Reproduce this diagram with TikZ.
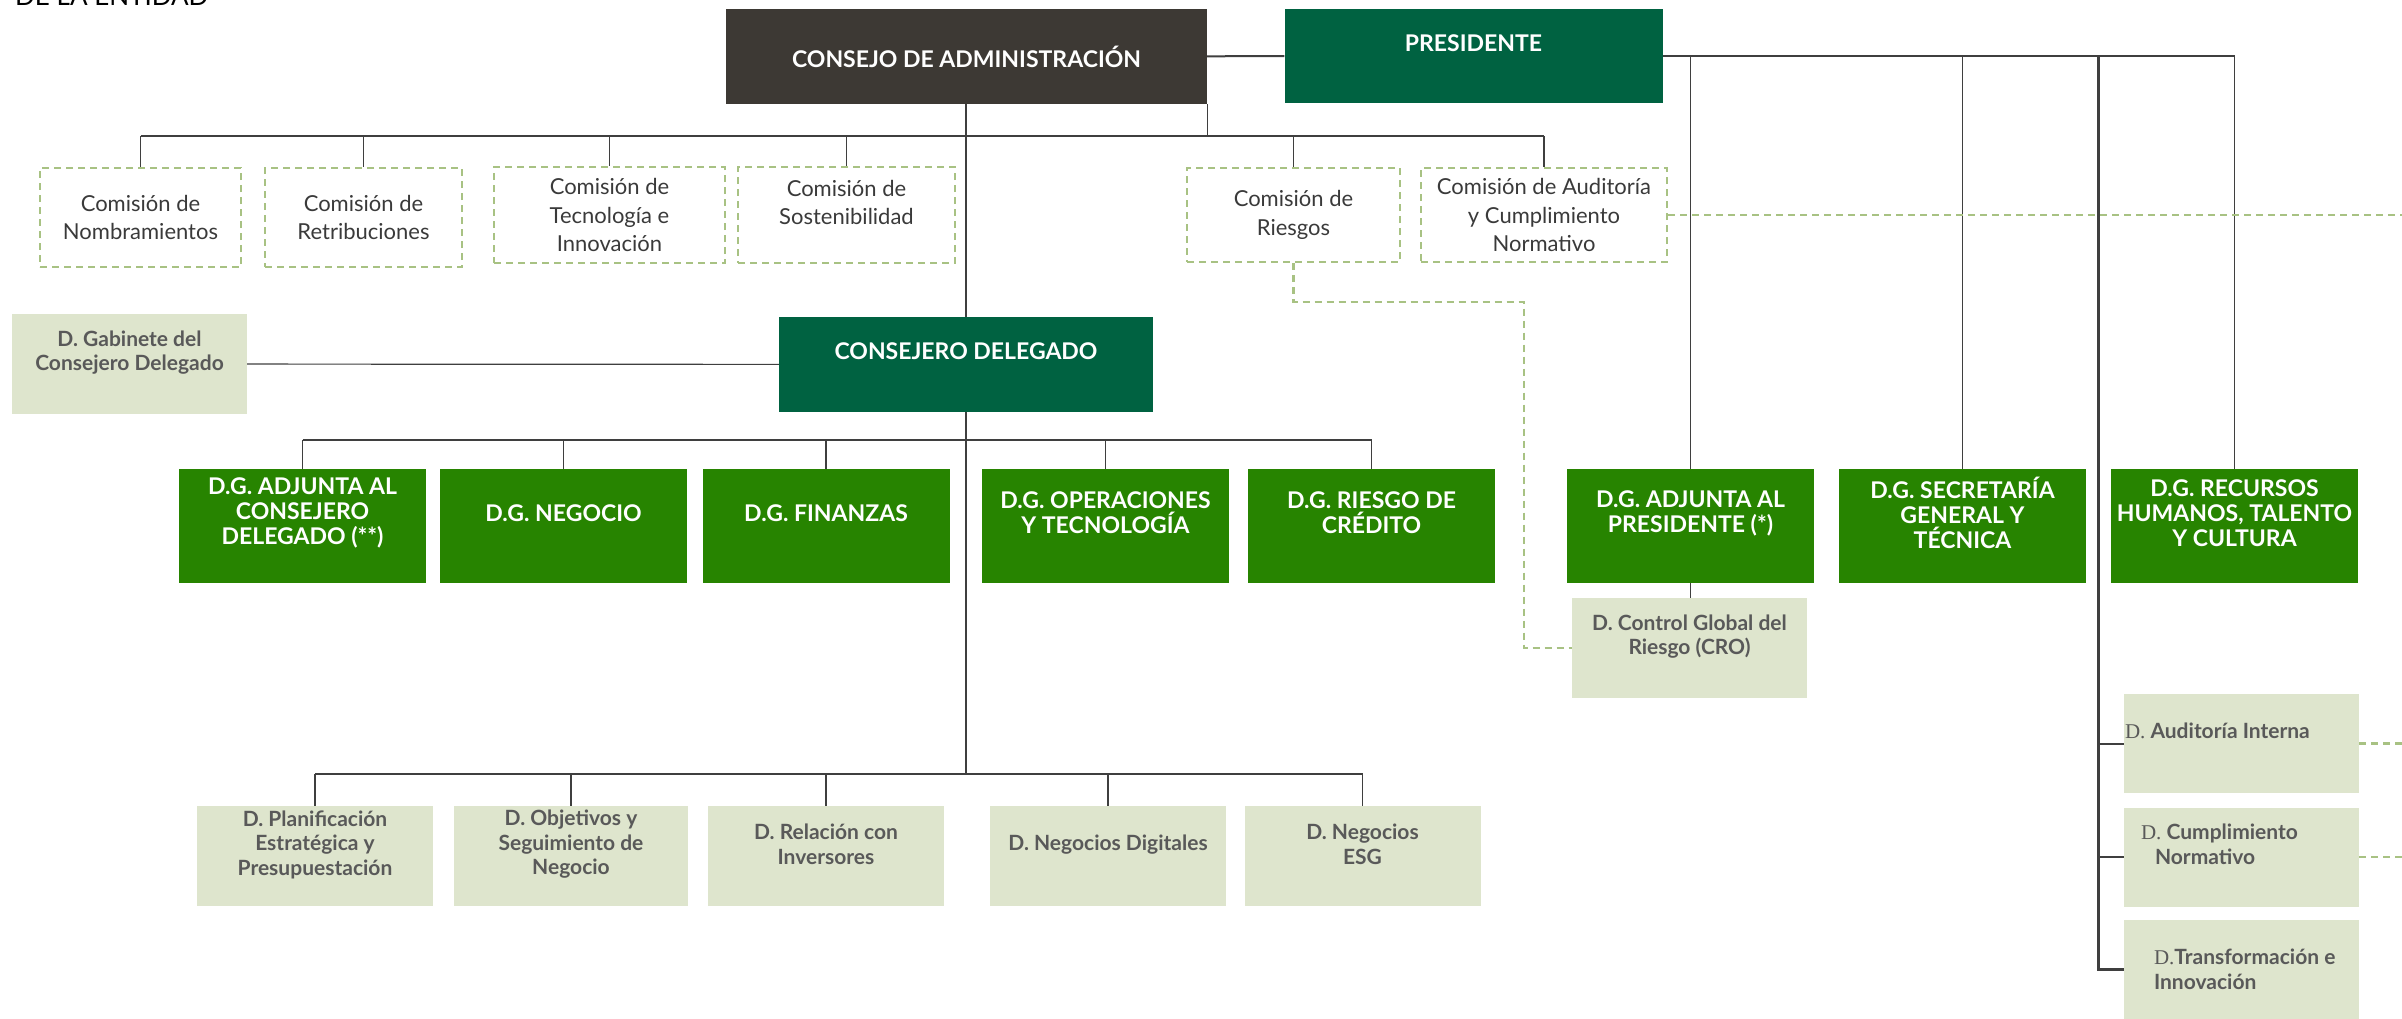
\documentclass[tikz,border=0pt]{standalone}
\usepackage{fontspec}
\setmainfont{Lato}
\newfontfamily\serifd{Liberation Serif}
\definecolor{cdagray}{HTML}{3D3934}
\definecolor{presgreen}{HTML}{006241}
\definecolor{dggreen}{HTML}{278400}
\definecolor{lightbox}{HTML}{DEE5CD}
\definecolor{dashgreen}{HTML}{A8C283}
\definecolor{linegray}{HTML}{3F3F3F}
\definecolor{comgray}{HTML}{3A3A3A}
\definecolor{dgray}{HTML}{595959}
\begin{document}
\begin{tikzpicture}[x=1pt,y=-1pt,
    line/.style={draw=linegray, line width=2pt},
    thinline/.style={draw=linegray, line width=1.2pt},
    audline/.style={draw=linegray, line width=3pt},
    dashline/.style={draw=dashgreen, line width=2.5pt, dash pattern=on 7pt off 5pt},
    whitetxt/.style={align=center, text=white, font=\bfseries\fontsize{23}{25}\selectfont},
    comtxt/.style={align=center, text=comgray, font=\fontsize{22}{28.5}\selectfont},
    dtxt/.style={align=center, text=dgray, font=\bfseries\fontsize{21}{24.5}\selectfont},
    dtxtl/.style={align=left, text=dgray, inner sep=0pt, font=\bfseries\fontsize{21}{25}\selectfont},
    cdabox/.style={fill=cdagray, inner sep=0pt, minimum width=481pt, minimum height=95pt},
    presbox/.style={fill=presgreen, inner sep=0pt, minimum width=378pt, minimum height=94pt,
      label={[whitetxt, yshift=13pt]center:{#1}}},
    combox/.style={draw=dashgreen, line width=2pt, dash pattern=on 7pt off 5pt, inner sep=0pt,
      label={[comtxt]center:{#1}}},
    comboxup/.style={draw=dashgreen, line width=2pt, dash pattern=on 7pt off 5pt, inner sep=0pt,
      label={[comtxt, yshift=12.5pt]center:{#1}}},
    dgbox/.style={fill=dggreen, inner sep=0pt, minimum width=247pt, minimum height=114pt,
      label={[whitetxt, yshift=13pt]center:{#1}}},
    lbox/.style={fill=lightbox, inner sep=0pt, minimum width=236pt, minimum height=100pt,
      label={[dtxt, yshift=11.5pt]center:{#1}}},
    rbox/.style={fill=lightbox, inner sep=0pt, minimum width=235pt, minimum height=99pt}]
  \useasboundingbox (0,0) rectangle (2402,1018);
  \clip (0,0) rectangle (2402,1018);
  \node[anchor=base west, inner sep=0pt, font=\fontsize{26}{30}\selectfont] (title) at (15,5) {DE LA ENTIDAD};

  % consejo y presidente
  \node[cdabox, whitetxt] (cda) at (966.5,56.5) {CONSEJO DE ADMINISTRACIÓN};
  \node[presbox={PRESIDENTE}] (pres) at (1473.5,56) {};

  % comisiones
  \node[combox={Comisión de\\Nombramientos}, minimum width=201pt, minimum height=99pt] (cnom) at (140.5,217.5) {};
  \node[combox={Comisión de\\Retribuciones}, minimum width=197pt, minimum height=99pt] (cret) at (363.5,217.5) {};
  \node[combox={Comisión de\\Tecnología e\\Innovación}, minimum width=231pt, minimum height=96pt] (ctec) at (609.5,215) {};
  \node[comboxup={Comisión de\\Sostenibilidad}, minimum width=217pt, minimum height=96pt] (csos) at (846.5,215) {};
  \node[combox={Comisión de\\Riesgos}, minimum width=213pt, minimum height=94pt] (crie) at (1293.5,215) {};
  \node[combox={Comisión de Auditoría\\y Cumplimiento\\Normativo}, minimum width=246pt, minimum height=94pt] (caud) at (1544,215) {};

  % consejero delegado
  \node[presbox={CONSEJERO DELEGADO}, minimum width=374pt, minimum height=95pt] (cdel) at (966,364.5) {};
  \node[lbox={D. Gabinete del\\Consejero Delegado}, minimum width=235pt] (gab) at (129.5,364) {};

  % direcciones generales
  \node[dgbox={D.G. ADJUNTA AL\\CONSEJERO\\DELEGADO (**)}] (dgacd) at (302.5,526) {};
  \node[dgbox={D.G. NEGOCIO}] (dgneg) at (563.5,526) {};
  \node[dgbox={D.G. FINANZAS}] (dgfin) at (826,526) {};
  \node[dgbox={D.G. OPERACIONES\\Y TECNOLOGÍA}] (dgop) at (1105.5,526) {};
  \node[dgbox={D.G. RIESGO DE\\CRÉDITO}] (dgrc) at (1371.5,526) {};
  \node[dgbox={D.G. ADJUNTA AL\\PRESIDENTE (*)}] (dgap) at (1690.5,526) {};
  \node[dgbox={D.G. SECRETARÍA\\GENERAL Y\\TÉCNICA}] (dgsg) at (1962.5,526) {};
  \node[dgbox={{D.G. RECURSOS\\HUMANOS, TALENTO\\Y CULTURA}}] (dgrh) at (2234.5,526) {};
  \node[lbox={D. Control Global del\\Riesgo (CRO)}, minimum width=235pt] (ctrl) at (1689.5,648) {};

  % direcciones
  \node[lbox={D. Planificación\\Estratégica y\\Presupuestación}] (dplan) at (315,856) {};
  \node[lbox={D. Objetivos y\\Seguimiento de\\Negocio}, minimum width=234pt] (dobj) at (571,856) {};
  \node[lbox={D. Relación con\\Inversores}] (drel) at (826,856) {};
  \node[lbox={D. Negocios Digitales}] (ddig) at (1108,856) {};
  \node[lbox={D. Negocios\\ESG}] (desg) at (1362.5,856) {};

  \node[rbox, label={[dtxtl, anchor=west, xshift=1pt, yshift=12.5pt]west:{{\mdseries\serifd D.} Auditoría Interna}}] (daud) at (2241.5,743.5) {};
  \node[rbox, label={[dtxtl, anchor=west, xshift=17pt, yshift=13pt]west:{{\mdseries\serifd D.} Cumplimiento\\\hspace*{14pt}Normativo}}] (dcum) at (2241.5,857) {};
  \node[rbox, label={[dtxtl, anchor=west, xshift=30pt]west:{{\mdseries\serifd D.}Transformación e\\Innovación}}] (dtra) at (2241.5,969.5) {};

  % lineas
  \coordinate (cbus) at (966,136);
  \coordinate (dbus) at (966,440);
  \coordinate (bbus) at (966,774);
  \coordinate (audtop) at (2098,56);
  \coordinate (riskbend) at (1524,302);
  \coordinate (rightedge) at (2402,0);

  \path[line] (cda) edge (pres);
  \draw[line] (pres.east) -- (pres.east -| dgrh);
  \draw[thinline] (pres.east -| dgap) -- (dgap.north);
  \draw[thinline] (pres.east -| dgsg) -- (dgsg.north);
  \draw[thinline] (pres.east -| dgrh) -- (dgrh.north);
  \draw[audline] (audtop) |- (dtra.west);
  \draw[line] (audtop |- daud.west) -- (daud.west);
  \draw[line] (audtop |- dcum.west) -- (dcum.west);

  \draw[line] (cda.south -| cbus) -- (cdel.north -| cbus);
  \draw[thinline] (cda.south east) -- (cda.south east |- cbus);
  \draw[line] (cnom.north |- cbus) -- (caud.north |- cbus);
  \foreach \c in {cnom,cret,ctec,csos,crie,caud}
    \draw[thinline] (\c.north |- cbus) -- (\c.north);

  \path[thinline] (gab) edge (cdel);
  \draw[line] (cdel.south -| bbus) -- (bbus);
  \draw[line] (dgacd.north |- dbus) -- (dgrc.north |- dbus);
  \foreach \d in {dgacd,dgneg,dgfin,dgop,dgrc}
    \draw[thinline] (\d.north |- dbus) -- (\d.north);
  \draw[thinline] (dgap.south) -- (dgap.south |- ctrl.north);

  \draw[line] (dplan.north |- bbus) -- (desg.north |- bbus);
  \foreach \d in {dplan,dobj,drel,ddig,desg}
    \draw[thinline] (\d.north |- bbus) -- (\d.north);

  % lineas discontinuas
  \draw[dashline] (crie.south) |- (riskbend) |- (ctrl.west);
  \draw[dashline] (caud.east) -- (caud.east -| rightedge);
  \draw[dashline] (daud.east) -- (daud.east -| rightedge);
  \draw[dashline] (dcum.east) -- (dcum.east -| rightedge);
\end{tikzpicture}
\end{document}
